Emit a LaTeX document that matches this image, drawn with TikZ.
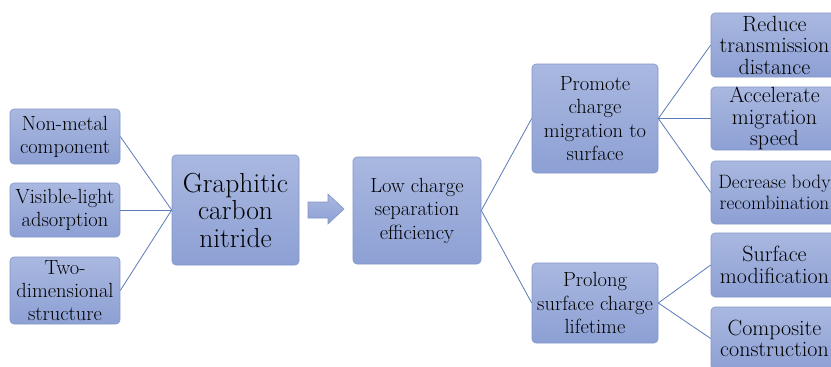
\documentclass[tikz,border=0pt]{standalone}
\usepackage{fontspec}
\definecolor{boxtop}{HTML}{A9B8E0}
\definecolor{boxbot}{HTML}{8DA0D4}
\definecolor{boxline}{HTML}{8396C9}
\definecolor{conn}{HTML}{5A7BB8}
\tikzset{
  box/.style={rounded corners=4pt, draw=boxline, line width=0.6pt,
    top color=boxtop, bottom color=boxbot, align=center, inner sep=0pt},
  small/.style={font=\fontsize{20.5}{23}\selectfont},
  mid/.style={font=\fontsize{20.5}{23.5}\selectfont},
  rt/.style={font=\fontsize{22}{21.5}\selectfont},
  rtn/.style={font=\fontsize{19.3}{21.5}\selectfont},
  big/.style={font=\fontsize{27.5}{27.5}\selectfont},
  link/.style={draw=conn, line width=0.8pt}
}
\begin{document}
\begin{tikzpicture}[x=1pt,y=-1pt]
\useasboundingbox (0,0) rectangle (831,367);
\fill[white] (0,0) rectangle (831,367);
% left column
\node[box,small,minimum width=110pt,minimum height=55pt] (nm) at (65,136.5) {Non-metal\\component};
\node[box,small,minimum width=110pt,minimum height=54pt] (vl) at (65,210) {Visible-light\\adsorption};
\node[box,small,minimum width=110pt,minimum height=67pt] (td) at (65,290.5) {Two-\\dimensional\\structure};
% centre
\node[box,big,minimum width=127pt,minimum height=110pt] (gcn) at (235.5,210) {Graphitic\\carbon\\nitride};
\node[box,mid,minimum width=128pt,minimum height=107pt] (low) at (417,210.5) {Low charge\\separation\\efficiency};
% middle column
\node[box,mid,minimum width=126pt,minimum height=109pt] (prom) at (595,118.5) {Promote\\charge\\migration to\\surface};
\node[box,mid,minimum width=126pt,minimum height=80pt] (prol) at (595,303) {Prolong\\surface charge\\lifetime};
% right column
\node[box,rt,minimum width=127pt,minimum height=64pt] (red) at (774.5,45) {Reduce\\transmission\\distance};
\node[box,rt,minimum width=127pt,minimum height=63pt] (acc) at (774.5,118.5) {Accelerate\\migration\\speed};
\node[box,rtn,minimum width=127pt,minimum height=63pt] (dec) at (774.5,192.5) {Decrease body\\recombination};
\node[box,rt,minimum width=127pt,minimum height=64pt] (sur) at (774.5,265) {Surface\\modification};
\node[box,rt,minimum width=127pt,minimum height=63pt] (com) at (774.5,338.5) {Composite\\construction};
% connectors
\draw[link] (nm.east) -- (gcn.west);
\draw[link] (vl.east) -- (gcn.west);
\draw[link] (td.east) -- (gcn.west);
\draw[link] (low.east) -- (prom.west);
\draw[link] (low.east) -- (prol.west);
\draw[link] (prom.east) -- (red.west);
\draw[link] (prom.east) -- (acc.west);
\draw[link] (prom.east) -- (dec.west);
\draw[link] (prol.east) -- (sur.west);
\draw[link] (prol.east) -- (com.west);
% block arrow
\draw[draw=boxline, line width=0.6pt, top color=boxtop, bottom color=boxbot]
  (308,202) -- (328,202) -- (328,194) -- (344,209) -- (328,224) -- (328,218) -- (308,218) -- cycle;
\end{tikzpicture}
\end{document}
